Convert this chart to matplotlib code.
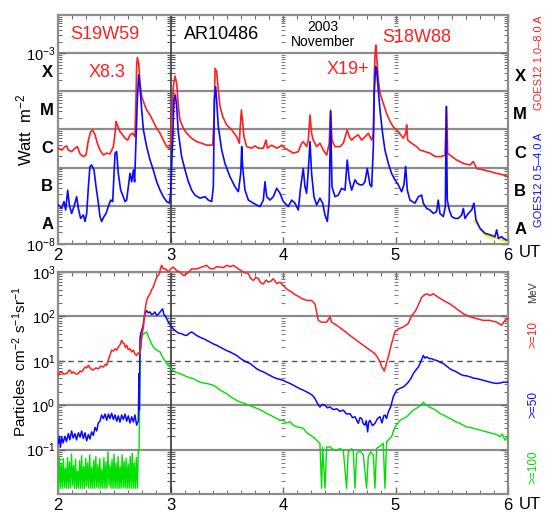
import numpy as np
import matplotlib
matplotlib.use('Agg')
import matplotlib.pyplot as plt
from matplotlib.ticker import FixedLocator, MultipleLocator, NullFormatter

plt.rcParams['font.family'] = ['Liberation Sans', 'DejaVu Sans']
plt.rcParams['mathtext.default'] = 'regular'

# ---- GOES12 X-ray flux, (day of November 2003, log10 W m^-2) ----
goes_long = [(2.003,-5.49),(2.033,-5.54),(2.062,-5.45),(2.077,-5.43),(2.092,-5.54),(2.121,-5.58),(2.151,-5.49),
    (2.172,-5.45),(2.196,-5.64),(2.225,-5.71),(2.249,-5.67),(2.270,-5.28),(2.290,-5.06),(2.308,-5.01),(2.329,-5.14),
    (2.350,-5.36),(2.373,-5.54),(2.403,-5.67),(2.433,-5.62),(2.462,-5.64),(2.492,-5.45),(2.507,-5.10),(2.516,-4.79),
    (2.527,-4.88),(2.551,-5.06),(2.575,-5.14),(2.596,-5.23),(2.619,-5.28),(2.640,-5.14),(2.664,-5.10),(2.684,-5.19),
    (2.693,-4.23),(2.699,-3.35),(2.705,-3.11),(2.717,-3.27),(2.729,-3.79),(2.744,-4.14),(2.764,-4.31),(2.788,-4.49),
    (2.818,-4.62),(2.847,-4.79),(2.877,-4.97),(2.907,-5.10),(2.936,-5.28),(2.966,-5.45),(2.990,-5.49),(3.001,-5.36),
    (3.013,-4.66),(3.025,-3.88),(3.040,-3.60),(3.055,-3.79),(3.070,-4.40),(3.084,-4.75),(3.114,-4.97),(3.144,-5.10),
    (3.188,-5.23),(3.233,-5.32),(3.277,-5.36),(3.321,-5.41),(3.375,-5.41),(3.387,-4.75),(3.396,-3.40),(3.410,-3.48),
    (3.425,-3.97),(3.440,-4.40),(3.464,-4.66),(3.499,-4.88),(3.544,-5.01),(3.588,-5.19),(3.612,-5.36),(3.618,-5.01),
    (3.630,-4.49),(3.639,-4.75),(3.653,-5.19),(3.677,-5.45),(3.721,-5.49),(3.751,-5.43),(3.781,-5.49),(3.825,-5.49),
    (3.849,-5.28),(3.861,-5.49),(3.899,-5.41),(3.944,-5.49),(3.973,-5.45),(3.988,-5.41),(4.017,-5.49),(4.047,-5.54),
    (4.091,-5.62),(4.136,-5.58),(4.165,-5.36),(4.180,-5.32),(4.210,-5.45),(4.225,-5.28),(4.240,-4.62),(4.254,-5.10),
    (4.269,-5.28),(4.299,-5.45),(4.328,-5.36),(4.358,-5.54),(4.388,-5.67),(4.411,-5.36),(4.423,-4.49),(4.435,-5.28),
    (4.462,-5.45),(4.506,-5.45),(4.536,-5.36),(4.571,-5.01),(4.589,-5.19),(4.610,-5.28),(4.640,-5.19),(4.669,-5.14),
    (4.699,-5.28),(4.728,-5.19),(4.758,-5.10),(4.788,-5.28),(4.803,-5.10),(4.811,-3.62),(4.820,-2.92),(4.826,-2.79),
    (4.835,-3.18),(4.847,-3.70),(4.862,-4.05),(4.891,-4.31),(4.921,-4.58),(4.951,-4.79),(4.980,-4.93),(5.025,-5.06),
    (5.069,-5.23),(5.090,-5.10),(5.099,-4.88),(5.108,-5.28),(5.143,-5.36),(5.188,-5.45),(5.217,-5.54),(5.262,-5.58),
    (5.306,-5.62),(5.351,-5.71),(5.380,-5.71),(5.410,-5.71),(5.440,-5.67),(5.454,-4.40),(5.463,-5.62),(5.484,-5.67),
    (5.543,-5.80),(5.603,-5.89),(5.662,-5.93),(5.691,-5.84),(5.721,-6.02),(5.780,-6.06),(5.840,-6.10),(5.899,-6.15),
    (5.958,-6.19),(6.000,-6.24)]

goes_short = [(2.003,-6.98),(2.033,-7.07),(2.053,-6.89),(2.068,-7.11),(2.086,-6.59),(2.101,-6.98),(2.121,-7.20),
    (2.142,-7.02),(2.166,-6.76),(2.181,-7.07),(2.201,-7.33),(2.225,-7.24),(2.240,-7.41),(2.255,-7.20),(2.270,-6.50),
    (2.284,-5.97),(2.299,-5.93),(2.320,-6.06),(2.338,-6.50),(2.359,-6.93),(2.373,-7.28),(2.388,-7.41),(2.409,-7.28),
    (2.427,-7.20),(2.447,-7.02),(2.468,-6.85),(2.486,-6.89),(2.507,-5.62),(2.521,-5.58),(2.536,-6.15),(2.557,-6.59),
    (2.575,-6.72),(2.596,-6.89),(2.610,-6.85),(2.625,-6.50),(2.640,-6.15),(2.655,-6.37),(2.670,-6.06),(2.681,-6.37),
    (2.693,-5.28),(2.705,-4.23),(2.717,-3.57),(2.729,-3.88),(2.744,-4.49),(2.759,-5.01),(2.788,-5.45),(2.818,-5.80),
    (2.847,-6.06),(2.877,-6.37),(2.907,-6.59),(2.936,-6.76),(2.966,-6.89),(2.990,-6.93),(3.001,-6.67),(3.019,-5.28),
    (3.031,-4.23),(3.043,-4.10),(3.055,-4.40),(3.070,-5.10),(3.099,-5.71),(3.129,-6.06),(3.159,-6.37),(3.188,-6.59),
    (3.218,-6.72),(3.262,-6.80),(3.307,-6.76),(3.336,-6.85),(3.366,-6.89),(3.381,-6.50),(3.390,-4.23),(3.401,-3.88),
    (3.410,-4.23),(3.425,-4.93),(3.455,-5.54),(3.484,-5.89),(3.529,-6.24),(3.573,-6.50),(3.603,-6.63),(3.624,-6.15),
    (3.633,-5.45),(3.641,-5.97),(3.662,-6.59),(3.692,-6.85),(3.736,-6.93),(3.766,-6.98),(3.796,-7.02),(3.825,-6.85),
    (3.840,-6.37),(3.855,-6.76),(3.884,-6.85),(3.914,-6.76),(3.944,-6.54),(3.973,-6.67),(4.003,-6.89),(4.047,-7.02),
    (4.077,-6.85),(4.106,-6.93),(4.136,-7.11),(4.157,-6.50),(4.180,-6.02),(4.195,-6.50),(4.210,-6.67),(4.225,-6.06),
    (4.240,-5.32),(4.254,-6.15),(4.275,-6.76),(4.299,-6.98),(4.328,-6.80),(4.352,-6.93),(4.373,-7.24),(4.394,-7.41),
    (4.411,-6.85),(4.423,-4.53),(4.435,-6.50),(4.462,-6.76),(4.491,-6.72),(4.521,-6.54),(4.551,-6.59),(4.571,-5.80),
    (4.589,-6.32),(4.610,-6.59),(4.640,-6.32),(4.660,-6.41),(4.684,-6.45),(4.708,-6.45),(4.728,-6.37),(4.749,-6.02),
    (4.773,-6.45),(4.788,-6.50),(4.803,-5.45),(4.811,-4.05),(4.823,-3.35),(4.832,-3.44),(4.847,-3.97),(4.862,-4.49),
    (4.885,-5.10),(4.906,-5.54),(4.936,-5.89),(4.965,-6.15),(4.995,-6.32),(5.025,-6.45),(5.054,-6.63),(5.075,-6.45),
    (5.090,-5.97),(5.105,-6.59),(5.128,-6.85),(5.173,-6.93),(5.203,-6.76),(5.232,-6.72),(5.247,-6.93),(5.277,-7.07),
    (5.306,-7.11),(5.336,-7.20),(5.365,-7.15),(5.380,-6.85),(5.395,-7.20),(5.425,-7.28),(5.443,-7.02),(5.451,-4.40),
    (5.460,-6.85),(5.478,-7.11),(5.499,-7.28),(5.528,-7.33),(5.558,-7.33),(5.588,-7.24),(5.603,-7.07),(5.617,-7.33),
    (5.647,-7.20),(5.677,-7.11),(5.697,-6.93),(5.715,-7.37),(5.751,-7.59),(5.795,-7.72),(5.840,-7.76),(5.884,-7.81),
    (5.899,-7.63),(5.914,-7.85),(5.943,-7.81),(5.958,-7.85),(5.988,-7.90)]

goes_other = [(5.700,-7.40),(5.720,-7.45),(5.760,-7.63),(5.800,-7.77),(5.850,-7.83),(5.900,-7.85),(5.950,-7.89),(5.995,-7.94)]

# ---- GOES proton flux, (day, log10 particles cm^-2 s^-1 sr^-1) ----
p10 = [(2.003,0.67),(2.018,0.74),(2.033,0.75),(2.050,0.70),(2.077,0.71),(2.095,0.78),(2.107,0.79),(2.122,0.72),
    (2.136,0.75),(2.160,0.70),(2.181,0.71),(2.196,0.77),(2.210,0.75),(2.225,0.80),(2.240,0.86),(2.255,0.84),
    (2.270,0.90),(2.290,0.82),(2.314,0.79),(2.335,0.84),(2.359,0.82),(2.380,0.88),(2.403,0.86),(2.420,0.92),
    (2.433,0.90),(2.456,1.09),(2.477,1.24),(2.492,1.22),(2.507,1.27),(2.522,1.24),(2.536,1.31),(2.551,1.36),
    (2.566,1.46),(2.577,1.40),(2.587,1.39),(2.600,1.30),(2.610,1.35),(2.625,1.25),(2.640,1.27),(2.655,1.20),
    (2.670,1.24),(2.685,1.15),(2.699,1.12),(2.712,1.18),(2.723,1.16),(2.735,1.27),(2.744,1.54),(2.759,1.76),
    (2.773,2.13),(2.788,2.36),(2.803,2.45),(2.818,2.51),(2.832,2.60),(2.847,2.66),(2.862,2.78),(2.877,2.88),
    (2.901,2.96),(2.911,3.08),(2.921,3.15),(2.936,3.07),(2.957,3.07),(2.981,3.00),(3.001,3.07),(3.025,3.11),
    (3.055,3.03),(3.084,3.00),(3.114,2.92),(3.144,2.96),(3.188,3.07),(3.233,3.07),(3.277,3.11),(3.321,3.15),
    (3.350,3.08),(3.381,3.07),(3.410,3.12),(3.440,3.11),(3.470,3.10),(3.499,3.15),(3.530,3.12),(3.559,3.15),
    (3.603,3.07),(3.647,3.00),(3.692,2.96),(3.715,2.85),(3.736,2.81),(3.760,2.88),(3.781,2.85),(3.800,2.76),
    (3.825,2.73),(3.850,2.82),(3.870,2.77),(3.895,2.80),(3.914,2.85),(3.944,2.74),(3.973,2.77),(4.002,2.70),
    (4.032,2.62),(4.055,2.58),(4.077,2.55),(4.100,2.50),(4.121,2.47),(4.145,2.44),(4.165,2.40),(4.190,2.38),
    (4.210,2.36),(4.254,2.36),(4.284,2.28),(4.299,2.10),(4.314,1.91),(4.343,1.87),(4.388,1.87),(4.417,1.99),
    (4.432,1.87),(4.477,1.80),(4.536,1.69),(4.595,1.57),(4.654,1.46),(4.714,1.35),(4.773,1.24),(4.817,1.16),
    (4.840,1.08),(4.862,0.97),(4.880,0.85),(4.891,0.82),(4.900,0.77),(4.915,0.90),(4.936,1.09),(4.965,1.39),
    (4.995,1.65),(5.025,1.72),(5.069,1.76),(5.114,1.84),(5.143,2.02),(5.165,2.08),(5.188,2.17),(5.210,2.30),
    (5.232,2.43),(5.255,2.48),(5.277,2.51),(5.306,2.47),(5.336,2.51),(5.380,2.43),(5.425,2.36),(5.484,2.28),
    (5.543,2.17),(5.603,2.06),(5.662,1.99),(5.721,1.95),(5.780,1.91),(5.840,1.91),(5.899,1.87),(5.943,1.80),
    (5.973,1.91),(6.000,1.95)]

p50 = [(2.003,-0.86),(2.012,-0.70),(2.021,-0.95),(2.033,-0.71),(2.045,-0.85),(2.062,-0.70),(2.075,-0.82),
    (2.092,-0.64),(2.105,-0.78),(2.121,-0.58),(2.135,-0.74),(2.151,-0.64),(2.165,-0.78),(2.181,-0.62),(2.196,-0.72),
    (2.210,-0.58),(2.225,-0.75),(2.240,-0.62),(2.255,-0.80),(2.270,-0.66),(2.284,-0.76),(2.299,-0.60),(2.314,-0.68),
    (2.329,-0.50),(2.344,-0.58),(2.358,-0.40),(2.373,-0.36),(2.388,-0.22),(2.403,-0.30),(2.418,-0.20),(2.433,-0.34),
    (2.448,-0.20),(2.462,-0.30),(2.477,-0.18),(2.492,-0.32),(2.507,-0.22),(2.522,-0.36),(2.536,-0.24),(2.551,-0.38),
    (2.566,-0.22),(2.581,-0.32),(2.596,-0.20),(2.610,-0.36),(2.625,-0.24),(2.640,-0.40),(2.655,-0.26),(2.670,-0.38),
    (2.684,-0.22),(2.699,-0.45),(2.714,-0.35),(2.720,0.71),(2.723,-0.10),(2.729,1.50),(2.735,1.61),(2.753,1.76),
    (2.773,2.06),(2.788,2.13),(2.803,2.08),(2.818,2.10),(2.832,2.04),(2.847,2.06),(2.862,2.10),(2.877,2.02),
    (2.892,2.05),(2.907,2.10),(2.920,2.14),(2.930,2.17),(2.940,2.05),(2.951,2.02),(2.966,1.95),(2.981,1.87),
    (2.996,1.82),(3.010,1.76),(3.033,1.70),(3.055,1.65),(3.077,1.62),(3.099,1.61),(3.122,1.58),(3.144,1.57),
    (3.166,1.62),(3.188,1.65),(3.210,1.61),(3.233,1.57),(3.262,1.53),(3.292,1.50),(3.321,1.46),(3.351,1.42),
    (3.381,1.38),(3.410,1.35),(3.440,1.31),(3.470,1.27),(3.499,1.23),(3.529,1.20),(3.559,1.16),(3.588,1.12),
    (3.618,1.06),(3.647,1.01),(3.677,0.97),(3.707,0.94),(3.736,0.88),(3.766,0.82),(3.796,0.78),(3.825,0.75),
    (3.855,0.71),(3.884,0.67),(3.914,0.63),(3.944,0.60),(3.973,0.58),(4.002,0.56),(4.032,0.52),(4.062,0.49),
    (4.092,0.45),(4.121,0.41),(4.150,0.37),(4.180,0.34),(4.210,0.30),(4.240,0.26),(4.262,0.22),(4.284,0.15),
    (4.306,0.04),(4.328,-0.04),(4.350,0.02),(4.373,0.00),(4.395,-0.06),(4.417,-0.04),(4.447,-0.10),(4.477,-0.08),
    (4.506,-0.14),(4.536,-0.11),(4.565,-0.20),(4.595,-0.19),(4.618,-0.28),(4.640,-0.26),(4.669,-0.41),(4.684,-0.28),
    (4.699,-0.30),(4.714,-0.42),(4.728,-0.45),(4.740,-0.35),(4.752,-0.60),(4.762,-0.38),(4.773,-0.34),(4.795,-0.46),
    (4.817,-0.41),(4.840,-0.30),(4.862,-0.26),(4.880,-0.40),(4.895,-0.24),(4.906,-0.22),(4.920,-0.30),(4.936,-0.15),
    (4.957,-0.04),(4.980,0.19),(5.010,0.34),(5.040,0.38),(5.069,0.41),(5.092,0.46),(5.114,0.52),(5.136,0.60),
    (5.158,0.71),(5.180,0.79),(5.203,0.86),(5.225,0.98),(5.247,1.12),(5.262,1.06),(5.277,1.09),(5.299,1.05),
    (5.321,1.05),(5.343,1.02),(5.365,1.01),(5.395,0.97),(5.425,0.94),(5.454,0.88),(5.484,0.82),(5.514,0.78),
    (5.543,0.75),(5.573,0.70),(5.603,0.67),(5.632,0.66),(5.662,0.64),(5.691,0.61),(5.721,0.60),(5.751,0.58),
    (5.780,0.56),(5.810,0.54),(5.840,0.52),(5.870,0.50),(5.899,0.49),(5.928,0.50),(5.958,0.52),(6.000,0.52)]

p100 = [(2.003,-1.87),(2.012,-1.15),(2.021,-1.87),(2.030,-1.32),(2.039,-1.87),(2.048,-1.20),(2.057,-1.85),
    (2.066,-1.42),(2.075,-1.87),(2.084,-1.18),(2.093,-1.87),(2.102,-1.28),(2.111,-1.87),(2.120,-1.10),(2.129,-1.80),
    (2.138,-1.36),(2.147,-1.87),(2.156,-1.22),(2.165,-1.87),(2.174,-1.48),(2.183,-1.87),(2.192,-1.25),(2.201,-1.87),
    (2.210,-1.14),(2.219,-1.87),(2.228,-1.38),(2.237,-1.87),(2.246,-1.20),(2.255,-1.82),(2.264,-1.30),(2.273,-1.87),
    (2.282,-1.12),(2.291,-1.87),(2.300,-1.40),(2.309,-1.87),(2.318,-1.24),(2.327,-1.87),(2.336,-1.16),(2.345,-1.85),
    (2.354,-1.34),(2.363,-1.87),(2.372,-1.20),(2.381,-1.87),(2.390,-1.44),(2.399,-1.87),(2.408,-1.18),(2.417,-1.87),
    (2.426,-1.28),(2.435,-1.87),(2.444,-1.05),(2.453,-1.80),(2.462,-1.35),(2.471,-1.87),(2.480,-1.22),(2.489,-1.87),
    (2.498,-1.10),(2.507,-1.87),(2.516,-1.30),(2.525,-1.87),(2.534,-1.16),(2.543,-1.87),(2.552,-1.38),(2.561,-1.87),
    (2.570,-1.12),(2.579,-1.85),(2.588,-1.26),(2.597,-1.87),(2.606,-1.20),(2.615,-1.87),(2.624,-1.32),(2.633,-1.87),
    (2.642,-1.15),(2.651,-1.87),(2.660,-1.08),(2.669,-1.87),(2.678,-1.30),(2.687,-1.87),(2.696,-1.18),(2.705,-1.87),
    (2.714,-1.00),(2.720,-1.01),(2.724,-0.40),(2.732,1.24),(2.747,1.57),(2.764,1.61),(2.788,1.65),(2.803,1.55),
    (2.818,1.46),(2.832,1.38),(2.847,1.31),(2.862,1.28),(2.877,1.24),(2.892,1.22),(2.907,1.20),(2.922,1.12),
    (2.936,1.05),(2.951,1.00),(2.966,0.94),(2.981,0.90),(2.996,0.86),(3.018,0.80),(3.040,0.75),(3.062,0.73),
    (3.084,0.71),(3.114,0.68),(3.144,0.64),(3.173,0.62),(3.203,0.60),(3.233,0.55),(3.262,0.52),(3.292,0.50),
    (3.321,0.49),(3.351,0.47),(3.381,0.45),(3.410,0.40),(3.440,0.34),(3.470,0.30),(3.499,0.26),(3.529,0.20),
    (3.559,0.15),(3.588,0.11),(3.618,0.07),(3.647,0.05),(3.677,0.02),(3.707,-0.01),(3.736,-0.04),(3.766,-0.07),
    (3.796,-0.10),(3.825,-0.14),(3.855,-0.19),(3.884,-0.22),(3.914,-0.26),(3.944,-0.30),(3.973,-0.34),(4.002,-0.34),
    (4.032,-0.40),(4.062,-0.37),(4.092,-0.45),(4.121,-0.49),(4.150,-0.50),(4.180,-0.52),(4.210,-0.62),(4.240,-0.67),
    (4.270,-0.72),(4.299,-0.79),(4.328,-0.86),(4.343,-1.87),(4.352,-0.94),(4.373,-1.87),(4.388,-0.94),(4.417,-0.94),
    (4.447,-1.00),(4.477,-1.01),(4.506,-0.98),(4.536,-1.01),(4.565,-1.87),(4.580,-1.05),(4.610,-0.98),(4.625,-1.05),
    (4.640,-1.87),(4.654,-1.09),(4.684,-1.02),(4.714,-1.12),(4.743,-1.87),(4.758,-1.16),(4.780,-1.05),(4.803,-1.12),
    (4.817,-1.87),(4.832,-0.97),(4.862,-0.92),(4.891,-0.86),(4.906,-1.87),(4.921,-0.82),(4.945,-0.76),(4.965,-0.71),
    (4.995,-0.49),(5.040,-0.34),(5.070,-0.30),(5.099,-0.26),(5.130,-0.18),(5.158,-0.11),(5.180,-0.08),(5.203,-0.04),
    (5.225,0.00),(5.247,0.07),(5.262,0.02),(5.277,0.00),(5.306,-0.05),(5.336,-0.08),(5.365,-0.12),(5.395,-0.19),
    (5.425,-0.22),(5.454,-0.26),(5.484,-0.30),(5.514,-0.34),(5.543,-0.38),(5.573,-0.41),(5.603,-0.45),(5.632,-0.49),
    (5.662,-0.50),(5.691,-0.52),(5.721,-0.54),(5.751,-0.56),(5.780,-0.58),(5.810,-0.60),(5.840,-0.62),(5.869,-0.64),
    (5.899,-0.66),(5.928,-0.71),(5.950,-0.65),(5.973,-0.79),(6.000,-0.71)]

days = [2, 3, 4, 5, 6]
day_labels = ['2', '3', '4', '5', '6']
flare_classes = ['X', 'M', 'C', 'B', 'A']

RED, BLUE, GREEN, YEL = '#ff1f1f', '#0a0aff', '#00e000', '#f0f000'
GRID = '#8c8c8c'


def series(pairs):
    t, v = zip(*pairs)
    return np.array(t), 10.0 ** np.array(v)


def style(ax, lo, hi, dec_lo, dec_hi):
    ax.set_xlim(2, 6)
    ax.set_yscale('log')
    ax.set_ylim(lo, hi)
    for s in ax.spines.values():
        s.set_color(GRID)
        s.set_linewidth(1.6)
    ax.xaxis.set_major_locator(FixedLocator(days))
    ax.xaxis.set_minor_locator(MultipleLocator(0.125))
    ax.set_xticklabels(day_labels, fontsize=12)
    minors = [m * 10.0 ** k for k in range(dec_lo, dec_hi) for m in range(2, 10)]
    ax.yaxis.set_minor_locator(FixedLocator(minors))
    ax.yaxis.set_minor_formatter(NullFormatter())
    ax.tick_params(which='both', direction='in', top=True, right=True, color='#666666')
    ax.tick_params(which='major', length=5, width=1, pad=3)
    ax.tick_params(which='minor', length=3, width=0.7)
    ax.tick_params(axis='y', labelsize=10.5, pad=2)
    # day markers: solid line at day 3, tick columns at days 3, 4, 5
    ax.axvline(3, color='#333333', lw=1.2, zorder=2)
    ax.plot([3] * len(minors), minors, ls='none', marker='_', ms=6, mew=0.8, color='#555555', zorder=2)
    for d in (4, 5):
        ax.plot([d] * len(minors), minors, ls='none', marker='_', ms=3, mew=0.8, color='#808080', zorder=2)


fig = plt.figure(figsize=(5.54, 5.13), dpi=100)
ax1 = fig.add_axes([0.1047, 0.5244, 0.8123, 0.4464])
ax2 = fig.add_axes([0.1047, 0.0370, 0.8123, 0.4328])

# ---------------- top panel: X-rays ----------------
style(ax1, 1e-8, 1e-2, -8, -2)
for k in range(-7, -2):
    ax1.axhline(10.0 ** k, color=GRID, lw=1.6, zorder=1)
ax1.yaxis.set_major_locator(FixedLocator([1e-8, 1e-3]))
ax1.set_yticklabels(['$10^{-8}$', '$10^{-3}$'])

t, v = series(goes_other)
ax1.plot(t, v, color=YEL, lw=1.6, zorder=3)
t, v = series(goes_long)
ax1.plot(t, v, color=RED, lw=1.2, zorder=4)
t, v = series(goes_short)
ax1.plot(t, v, color=BLUE, lw=1.2, zorder=5)

ytr = ax1.get_yaxis_transform()
for i, c in enumerate(flare_classes):
    ax1.text(-0.024, 10.0 ** (-3.5 - i), c, transform=ytr, ha='center', va='center',
             fontsize=12, fontweight='bold')
    ax1.text(1.027, 10.0 ** (-3.62 - i), c, transform=ytr, ha='center', va='center',
             fontsize=12, fontweight='bold')

ax1.text(0.104, 0.913, 'S19W59', transform=ax1.transAxes, color=RED, fontsize=13, ha='center', va='center')
ax1.text(0.364, 0.913, 'AR10486', transform=ax1.transAxes, color='black', fontsize=13, ha='center', va='center')
ax1.text(0.588, 0.948, '2003', transform=ax1.transAxes, fontsize=10, ha='center', va='center')
ax1.text(0.588, 0.882, 'November', transform=ax1.transAxes, fontsize=10, ha='center', va='center')
ax1.text(0.797, 0.900, 'S18W88', transform=ax1.transAxes, color=RED, fontsize=13, ha='center', va='center')
ax1.text(0.109, 0.747, 'X8.3', transform=ax1.transAxes, color=RED, fontsize=13, ha='center', va='center')
ax1.text(0.645, 0.760, 'X19+', transform=ax1.transAxes, color=RED, fontsize=13, ha='center', va='center')

# ---------------- bottom panel: protons ----------------
style(ax2, 1e-2, 1e3, -2, 3)
for k in (-1, 0, 2, 3):
    ax2.axhline(10.0 ** k, color=GRID, lw=1.6, zorder=1)
ax2.axhline(10.0, color='#555555', lw=1.0, ls=(0, (4, 3)), zorder=1)
ax2.yaxis.set_major_locator(FixedLocator([1e-1, 1e0, 1e1, 1e2, 1e3]))
ax2.set_yticklabels(['$10^{-1}$', '$10^{0}$', '$10^{1}$', '$10^{2}$', '$10^{3}$'])

t, v = series(p100)
ax2.plot(t, v, color=GREEN, lw=1.0, zorder=3)
t, v = series(p50)
ax2.plot(t, v, color=BLUE, lw=1.1, zorder=4)
t, v = series(p10)
ax2.plot(t, v, color=RED, lw=1.1, zorder=5, clip_on=False)

# ---------------- outer labels ----------------
fig.text(0.045, 0.747, 'Watt  m$^{-2}$', rotation=90, ha='center', va='center', fontsize=12)
fig.text(0.036, 0.296, 'Particles  cm$^{-2}$ s$^{-1}$sr$^{-1}$', rotation=90, ha='center', va='center',
         fontsize=11)
fig.text(0.957, 0.507, 'UT', ha='center', va='center', fontsize=12)
fig.text(0.957, 0.016, 'UT', ha='center', va='center', fontsize=12)

fig.text(0.973, 0.877, 'GOES12 1.0\u20138.0 A', rotation=90, ha='center', va='center', fontsize=8, color=RED)
fig.text(0.973, 0.649, 'GOES12 0.5\u20134.0 A', rotation=90, ha='center', va='center', fontsize=8, color=BLUE)
fig.text(0.962, 0.431, 'MeV', rotation=90, ha='center', va='center', fontsize=7.5, color='#333333')
fig.text(0.962, 0.347, '>=10', rotation=90, ha='center', va='center', fontsize=8.5, color=RED)
fig.text(0.962, 0.211, '>=50', rotation=90, ha='center', va='center', fontsize=8.5, color=BLUE)
fig.text(0.962, 0.090, '>=100', rotation=90, ha='center', va='center', fontsize=8.5, color=GREEN)

fig.savefig('out.png', dpi=100)
